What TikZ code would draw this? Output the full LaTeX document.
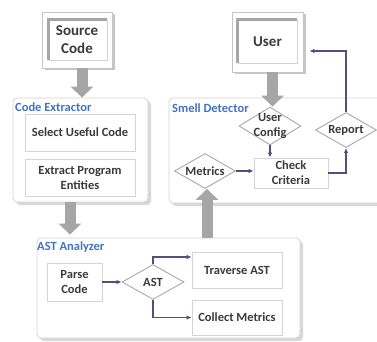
\documentclass[tikz,border=0pt]{standalone}
\usepackage{fontspec}
\setmainfont{Carlito}
\usetikzlibrary{shapes.geometric,arrows.meta,calc,shadows}
\definecolor{txt}{HTML}{3A3A3A}
\definecolor{lblc}{HTML}{4472C4}
\definecolor{conc}{HTML}{4F4F80}
\definecolor{blkc}{HTML}{A6A6A6}
\definecolor{bord}{HTML}{D4D4D4}
\definecolor{dbord}{HTML}{A8A8A8}
\definecolor{shad}{HTML}{D8D8D8}
\begin{document}
\begin{tikzpicture}[x=1pt,y=-1pt,
  panel/.style={draw=bord, fill=white, rounded corners=4pt, line width=0.8pt, inner sep=0pt,
    drop shadow={shadow xshift=3pt, shadow yshift=-3pt, fill=shad, opacity=1}},
  box/.style={draw=bord, fill=white, line width=0.8pt, text=txt,
    font=\bfseries\fontsize{12.5}{15}\selectfont, align=center, inner sep=0pt},
  dia/.style={diamond, draw=dbord, fill=white, line width=0.9pt, inner sep=0pt},
  dlab/.style={text=txt, font=\bfseries\fontsize{12.5}{15}\selectfont, align=center},
  frm/.style={draw=gray!45, fill=white, line width=0.8pt, text=txt, inner sep=0pt,
    font=\bfseries\fontsize{15}{18}\selectfont, align=center,
    drop shadow={shadow xshift=2.5pt, shadow yshift=-2.5pt, fill=gray!45, opacity=1}},
  lbl/.style={anchor=west, text=lblc, font=\bfseries\fontsize{12.5}{15}\selectfont, inner sep=1pt},
  con/.style={draw=conc, line width=1.3pt, -{Latex[length=5pt,width=4.5pt]}},
  blk/.style={draw=blkc, line width=11pt, -{Triangle[length=11pt,width=22pt]}},
  bevel/.style={draw=blkc, line width=3pt},
  bevlite/.style={draw=gray!35, line width=0.6pt}
]
\clip (0,0) rectangle (377,342);
\fill[white] (0,0) rectangle (377,342);

% panels
\node[panel, minimum width=135, minimum height=104] (ce) at (80.5,150) {};
\node[lbl] (celbl) at (14,107) {Code Extractor};
\node[panel, minimum width=221, minimum height=105] (sd) at (279.5,150.5) {};
\node[lbl] (sdlbl) at (171,108) {Smell Detector};
\node[panel, minimum width=263, minimum height=100] (astp) at (168.5,288) {};
\node[lbl] (astlbl) at (36,247) {AST Analyzer};

% source code frame
\node[frm, minimum width=70, minimum height=56] (src) at (77,40) {Source\\Code};
\coordinate (sA) at ($(src.north west)+(7,8)$);
\coordinate (sB) at ($(src.south east)+(-5,-8)$);
\draw[bevlite] (sA -| sB) -- (sB) -- (sA |- sB);
\draw[bevel] (sA |- sB) -- (sA) -- (sA -| sB);

% user frame
\node[frm, minimum width=71, minimum height=60] (user) at (267.5,42) {User};
\coordinate (uA) at ($(user.north west)+(6,8)$);
\coordinate (uB) at ($(user.south east)+(-6,-9)$);
\draw[bevlite] (uA -| uB) -- (uB) -- (uA |- uB);
\draw[bevel] (uA |- uB) -- (uA) -- (uA -| uB);

% code extractor boxes
\node[box, minimum width=110, minimum height=37] (sel) at (80,132.5) {Select Useful Code};
\node[box, minimum width=110, minimum height=37] (ext) at (80,177.5) {Extract Program\\Entities};

% smell detector
\node[dia, minimum width=62, minimum height=38,
  label={[dlab]center:User\\Config}] (uc) at (270,126) {};
\node[box, minimum width=74, minimum height=30] (chk) at (291,173) {Check\\Criteria};
\node[dia, minimum width=61, minimum height=35,
  label={[dlab]center:Metrics}] (met) at (205,171) {};
\node[dia, minimum width=61, minimum height=35,
  label={[dlab]center:Report}] (rep) at (346,130) {};

% AST analyzer
\node[box, minimum width=55, minimum height=38] (parse) at (74.5,282) {Parse\\Code};
\node[dia, minimum width=62, minimum height=35,
  label={[dlab]center:AST}] (ast) at (153,282) {};
\node[box, minimum width=90, minimum height=36] (trav) at (237,270) {Traverse AST};
\node[box, minimum width=90, minimum height=35] (coll) at (237,317.5) {Collect Metrics};

% block arrows
\draw[blk] ([xshift=5]src.south) -- ([xshift=5]src.south |- ce.north);
\draw[blk] ([xshift=-10.5]ce.south) -- ([xshift=-10.5,yshift=3]ce.south |- astp.north);
\draw[blk] ([xshift=2]met.south |- astp.north) -- ([xshift=2]met.south);
\draw[blk] ([xshift=5]user.south) -- ([xshift=5]user.south |- uc.north);

% connectors
\draw[con] (parse.east) -- (ast.west);
\draw[con] (ast.north) |- ([yshift=13]trav.west);
\draw[con] (ast.south) |- (coll.west);
\draw[con] (met.east) -- (met.east -| chk.west);
\draw[con] (uc.south) -- (uc.south |- chk.north);
\draw[con] (chk.east) -| (rep.south);
\draw[con] (rep.north) |- ([xshift=6,yshift=-9]user.east);
\end{tikzpicture}
\end{document}
